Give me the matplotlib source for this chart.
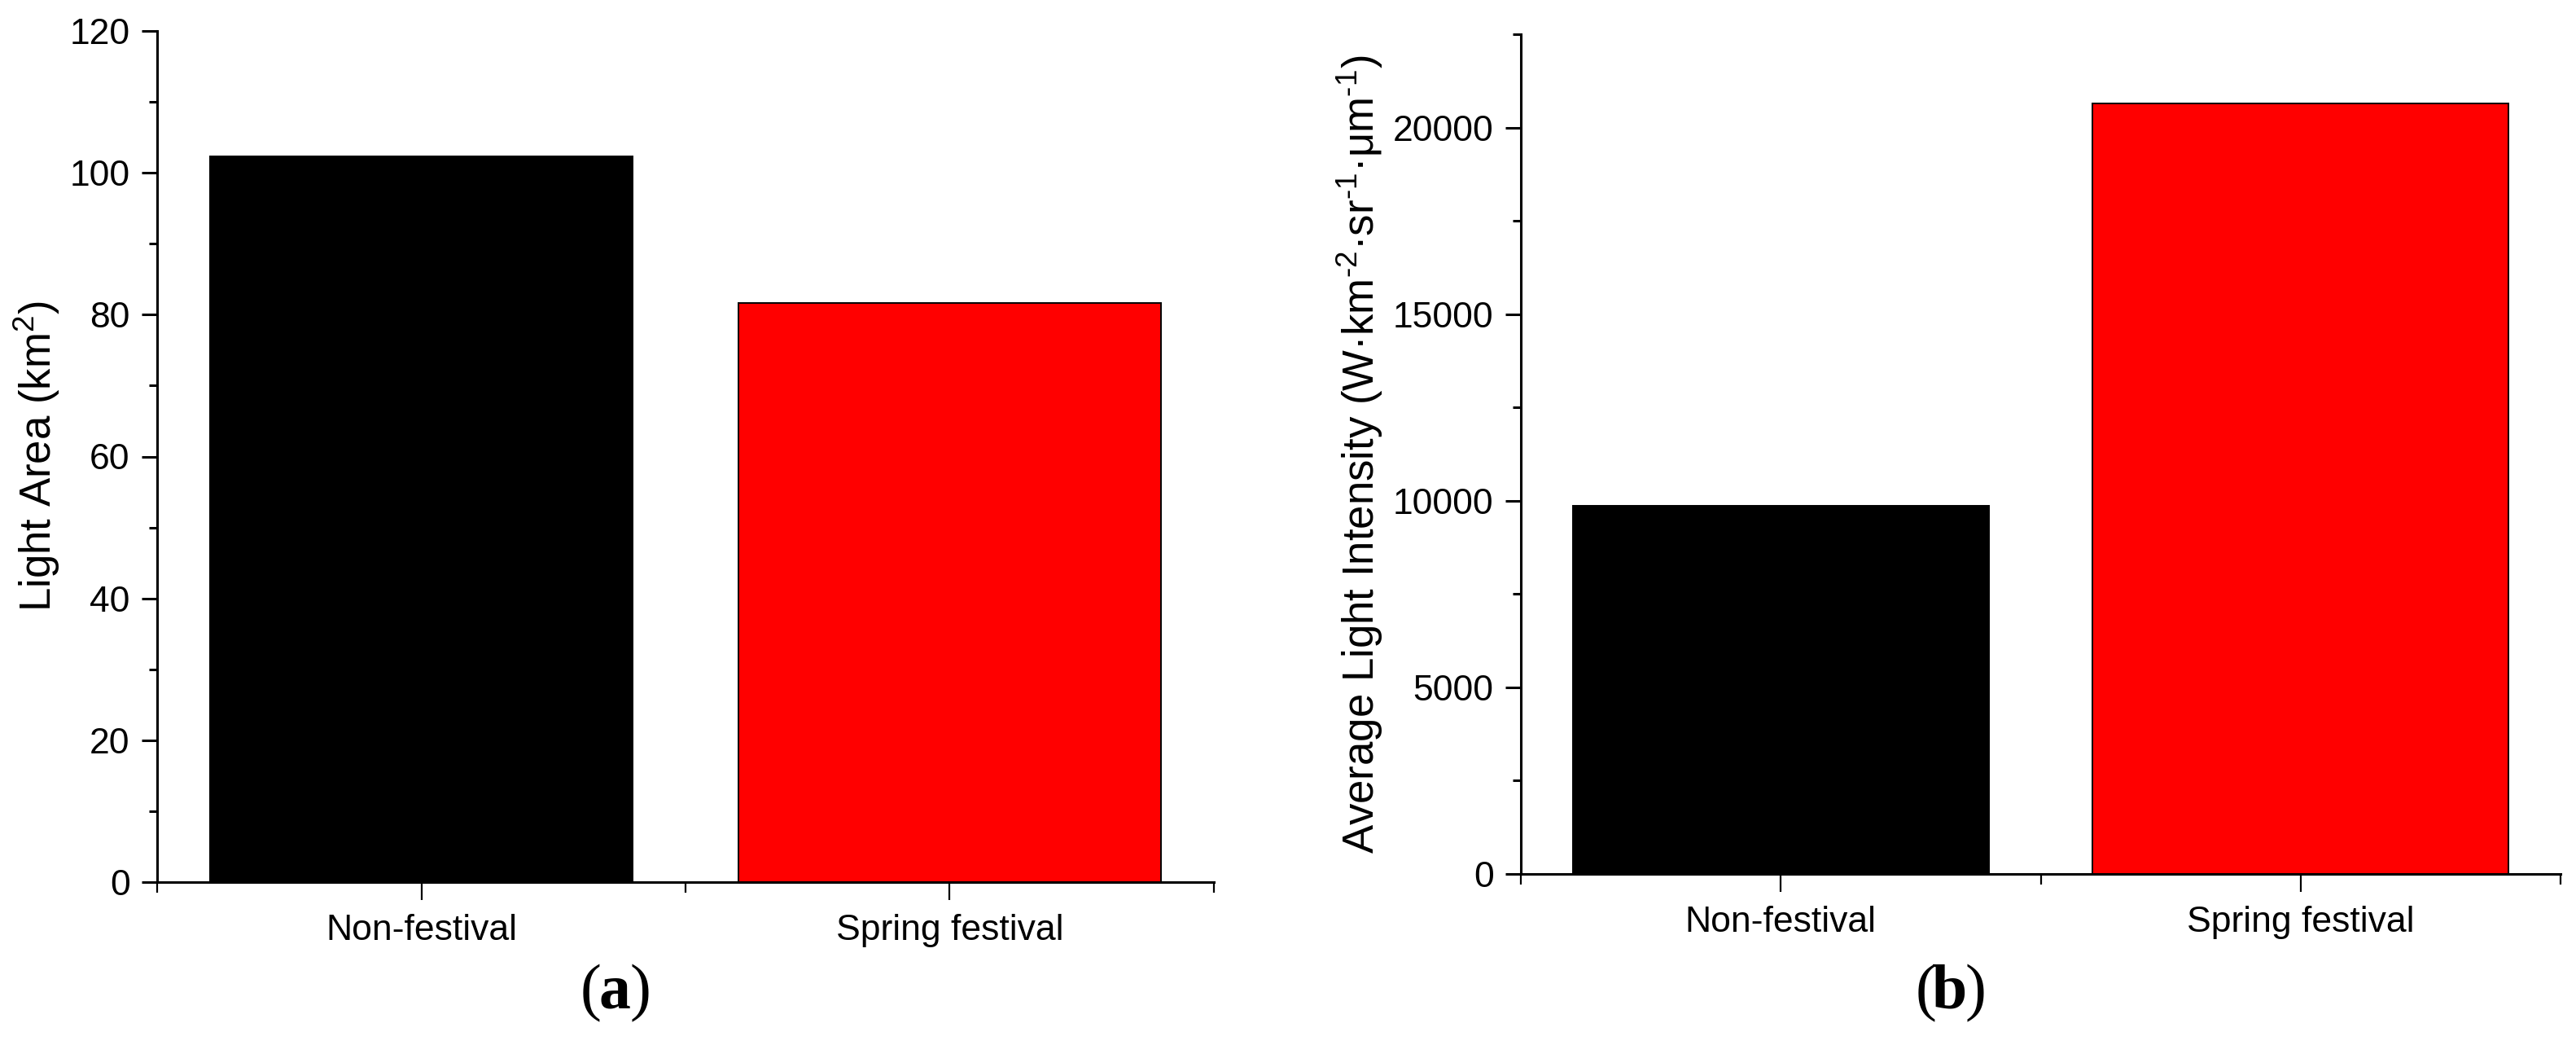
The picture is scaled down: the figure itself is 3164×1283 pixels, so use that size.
import matplotlib
matplotlib.use("Agg")
import matplotlib.pyplot as plt
from matplotlib.ticker import MultipleLocator, FixedLocator

plt.rcParams['font.family'] = ['Liberation Sans', 'DejaVu Sans']
plt.rcParams['mathtext.fontset'] = 'custom'
plt.rcParams['mathtext.rm'] = 'Liberation Sans'
plt.rcParams['mathtext.it'] = 'Liberation Sans:italic'
plt.rcParams['mathtext.bf'] = 'Liberation Sans:bold'

# data
periods = ['Non-festival', 'Spring festival']
light_area = [102.3, 81.6]          # km^2
light_intensity = [9870, 20640]     # W km-2 sr-1 um-1
bar_colors = ['#000000', '#ff0000']

W, H = 3164, 1283
fig = plt.figure(figsize=(W / 100, H / 100), dpi=100)

ax1 = fig.add_axes([193 / W, 1 - 1083 / H, 1298 / W, 1045 / H])
ax2 = fig.add_axes([1868 / W, 1 - 1073 / H, 1277 / W, 1031 / H])

xpos = [1, 2]


def style(ax, vals, ymax, major, minor):
    ax.bar(xpos, vals, width=0.8, color=bar_colors, edgecolor='black', linewidth=1.4, zorder=2)
    ax.set_xlim(0.5, 2.5)
    ax.set_ylim(0, ymax)
    ax.spines['top'].set_visible(False)
    ax.spines['right'].set_visible(False)
    for s in ('left', 'bottom'):
        ax.spines[s].set_linewidth(2.2)
    ax.set_xticks(xpos)
    ax.set_xticklabels(periods)
    ax.xaxis.set_minor_locator(FixedLocator([0.5, 1.5, 2.5]))
    ax.yaxis.set_major_locator(MultipleLocator(major))
    ax.yaxis.set_minor_locator(MultipleLocator(minor))
    ax.tick_params(axis='y', which='major', direction='out', length=14, width=2.2, labelsize=32, pad=10)
    ax.tick_params(axis='y', which='minor', direction='out', length=7, width=2.2)
    ax.tick_params(axis='x', which='major', direction='out', length=16, width=1.6, labelsize=32, pad=12)
    ax.tick_params(axis='x', which='minor', direction='out', length=9, width=1.6)


style(ax1, light_area, 120, 20, 10)
style(ax2, light_intensity, 22500, 5000, 2500)

fig.text(45 / W, 1 - 560 / H, r'Light Area (km$^{\mathregular{2}}$)', rotation=90,
         ha='center', va='center', fontsize=38)
fig.text(1670 / W, 1 - 558 / H,
         r'Average Light Intensity (W·km$^{\text{-2}}$·sr$^{\text{-1}}$·μm$^{\text{-1}}$)',
         rotation=90, ha='center', va='center', fontsize=38)

# panel letters
for cx, letter in [(755, 'a'), (2395, 'b')]:
    y = 1 - 1238 / H
    fig.text(cx / W, y, letter, ha='center', va='baseline', fontsize=56,
             family='Liberation Serif', fontweight='bold')
    fig.text((cx - 17) / W, y, '(', ha='right', va='baseline', fontsize=56, family='Liberation Serif')
    fig.text((cx + 19) / W, y, ')', ha='left', va='baseline', fontsize=56, family='Liberation Serif')

fig.savefig('out.png', dpi=100)
